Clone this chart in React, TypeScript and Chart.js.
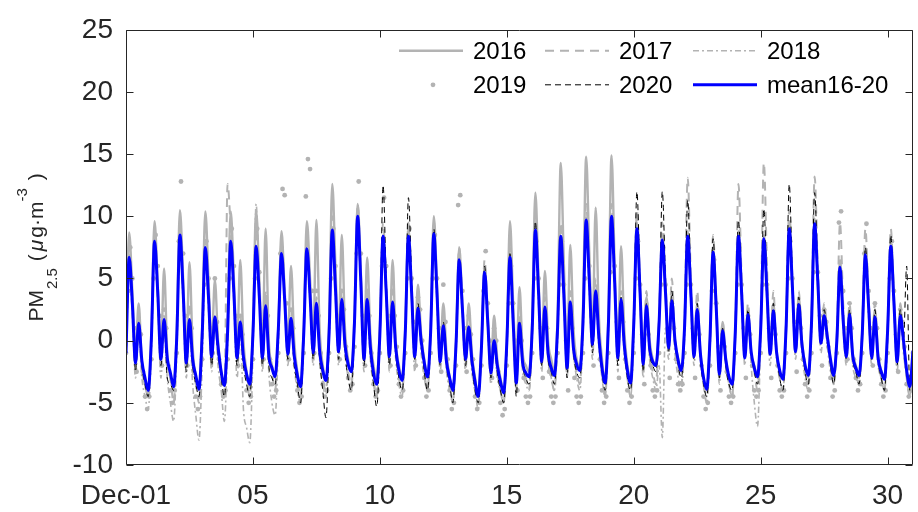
import React, { useEffect, useRef } from "react";
import { Chart, registerables } from "chart.js";

Chart.register(...registerables);

// ---------------- data (day 0 = Dec-01 00:00) ----------------
const SAMPLE_STEP_DAYS = 0.125; // 3-hourly samples for the line series
const SAMPLE_STEP_2019 = 1 / 12; // 2-hourly samples for the 2019 dots
const xTickValues = [0, 5, 10, 15, 20, 25, 30];
const xTickLabels = ["Dec-01", "05", "10", "15", "20", "25", "30"];
const yTickValues = [-10, -5, 0, 5, 10, 15, 20, 25];
const seriesNames = ["2016", "2017", "2018", "2019", "2020", "mean16-20"];

const pm2016 = [
  -0.5, 8.7, 4, -1, 3, -2, -3.5, -4.5,
  0.5, 9.6, 4.5, -1, 5.8, -1, -3, -4,
  1, 10.5, 5, -1, 6.3, -0.5, -3, -4,
  1, 10.4, 5, -0.5, 4.9, 0, -2.5, -3.5,
  1.5, 10.4, 5, -0.5, 6.5, 0, -2.5, -3.8,
  1, 10.5, 5, -0.5, 9, 0, -2, -3,
  1, 8.8, 4, 0, 6, 0, -2.5, -3.5,
  1, 9.6, 5, 0, 9.7, 1, -2, -3,
  1.5, 12.6, 6, 0, 8.5, 1, -1.5, -2.5,
  2, 11, 5.5, -0.5, 6.7, 0.5, -2, -3,
  1, 8.5, 4, -0.5, 6.5, 0, -2, -3,
  1, 9, 4, -0.5, 4.5, 0.5, -1.5, -3,
  1, 10, 4.5, -1, 3, -1, -3, -4,
  0, 7.5, 3, -1, 3, -1, -3, -4.5,
  -0.5, 6, 2, -2, 2, -1.5, -3, -4,
  0, 9.6, 3, -2, 4.3, -1, -2, -2.5,
  1.5, 11.9, 5, -1, 5.6, 0, -1.5, -2.5,
  2, 14.3, 6, -1, 7.7, 1, -1.5, -2,
  2.5, 14.8, 7, 0.5, 10.7, 2, -1.5, -3,
  2, 14.9, 6, -0.5, 7.6, 1, -2, -3,
  1.5, 9.5, 4, -1.5, 3.5, 0, -1.5, -2,
  1.5, 8.5, 4, -0.5, 3.5, 0, -1.5, -2.5,
  1, 8.8, 4, -1, 3, -1, -3, -4,
  0, 7.5, 3, -2.5, 1.5, -1.5, -3, -3.5,
  0.5, 8.8, 4, -1, 2.5, -1, -2, -3,
  1, 8.5, 4, -1, 3, -1, -2.5, -3,
  1, 9.5, 4.5, -1, 3.5, 0, -2, -3,
  1.5, 9.8, 5, 0, 2.5, 0.5, -1.5, -3,
  0, 6.5, 2, -1, 2.5, -1, -2, -3,
  0.5, 7.5, 3, -1, 2.5, -1, -2.5, -3,
  1, 8, 3.5, -1.5, 2.5, 0, -2.5, -3.5,
  -1,
];

const pm2017 = [
  -1, 7, 3, -2, 1, -2, -3.5, -4.5,
  0, 8.5, 4, -2, 2, -2, -3, -5,
  0, 9, 4, -2, 3, -2, -3.5, -5,
  1, 8, 4, -2, 2, -1, -3, -4.5,
  12.6, 9, 4, -1.5, 2, -1.5, -3, -4.5,
  1, 9, 4.5, -1.5, 3.5, -1, -2.5, -4,
  1, 8, 4, -1.5, 2.5, -1, -3, -4.5,
  1, 8.5, 4, -1, 3.5, -0.5, -3, -4,
  1, 10, 5, -1, 4, 0, -2.5, -3.5,
  1.5, 11, 5, -1.5, 4, -0.5, -3, -4.5,
  1, 9.5, 4.5, -1.5, 4, -0.5, -3, -4,
  1, 9.5, 4.5, -1.5, 3.5, 0, -2.5, -4,
  1, 9.5, 4, -2, 2, -2, -3.5, -5,
  0, 7.5, 3, -2, 2, -2, -4, -5,
  -0.5, 6.5, 2, -3, 1, -2.5, -4, -5,
  0, 7.5, 2, -3.5, 2, -2, -3, -4,
  1, 9.5, 4.5, -2, 3.5, -1.5, -3, -4,
  1, 9.5, 4, -2.5, 4, -1, -2.5, -3.5,
  1.5, 11, 5.5, -0.5, 5, 0, -2.5, -4.5,
  1.5, 11, 5, -1.5, 4, -0.5, -3, -4.5,
  1.5, 10.5, 4.5, -2, 4, -1, -2.5, -3.5,
  2, 9.5, 5, -0.5, 5, 0, -2, -3.5,
  1.5, 13.1, 5, -1, 4, -1, -3.5, -5,
  0, 8.5, 3, -3, 1.5, -2, -3.5, -4.5,
  1, 12.6, 5, -1, 3, -1, -2.5, -4,
  1.5, 14.3, 6, -1, 4, -1, -3, -4,
  1.5, 10.5, 5, -1, 4, 0, -2.5, -3.5,
  1.5, 13.2, 6, 0, 3, 0.5, -2, -3.5,
  0.5, 9.5, 3, -1, 3, -1, -2.5, -3.5,
  1, 9, 3.5, -1, 3, -1.5, -3, -4,
  1, 9, 3.5, -2, 3, 0, -3, -4.5,
  -1,
];

const pm2018 = [
  -1.5, 6, 2, -3, 0.5, -3, -4.5, -5.5,
  -1, 7, 3, -3, 1, -3, -5, -6.5,
  -1, 8, 3, -3, 1, -3.5, -6, -8,
  -2, 6.5, 2.5, -2.5, 2, -2, -4, -6.5,
  -0.5, 8, 3, -3, 1, -5.5, -7, -8.2,
  -1, 11, 4, -2.5, 4, -2.5, -5, -6,
  -0.5, 7, 3, -2, 2, -2, -4, -5,
  0, 7, 3, -2, 3, -1.5, -3.5, -4.5,
  0, 8, 3.5, -2, 3, -1, -3, -4,
  1, 9, 4, -2.5, 3, -1.5, -3.5, -4.5,
  0, 8, 3.5, -2.5, 3, -1.5, -3.5, -4.5,
  0, 8, 3.5, -2.5, 2.5, -1, -3, -4,
  0, 8, 3, -2.5, 1, -2.5, -4, -5,
  -1, 6, 2, -2.5, 1, -2.5, -4, -5.5,
  -1, 5, 1, -3.5, -0.5, -3, -4, -5,
  -1, 6, 1, -4, 1, -2.5, -3.5, -4,
  0, 8, 3, -2.5, 2.5, -1.5, -3, -4,
  0, 7.5, 3, -3, 3, -1, -3, -4,
  0.5, 9, 4, -1.5, 3.5, -0.5, -3, -4.5,
  0.5, 9, 4, -2.5, 3, -1, -3, -4.5,
  0, 8.5, 3, -3, 2.5, -1.5, -3, -4,
  -2, -7.8, 1, -1.5, 2.5, -1, -3, -4,
  0, 8, 3, -2, 2, -1.5, -3.5, -4.5,
  -1, 6.5, 2, -3.5, 0.5, -2, -3.5, -4.5,
  0, 8, 3, -2, 2, -2, -5, -6.9,
  0, 8, 3, -2, 2, -1.5, -3, -4,
  0.5, 8.5, 3.5, -1.5, 2.5, -1, -3, -4,
  0.5, 9, 4, -1, 1.5, -0.5, -2.5, -3.5,
  -0.5, 5.5, 1, -2, 1.5, -2, -3, -3.5,
  0, 6.5, 2, -2, 1.5, -2, -3, -4,
  0, 7, 2.5, -2.5, 1.5, -1, -3, -4.5,
  -1.5,
];

// 2-hourly (12 per day)
const pm2019 = [
  -1, 4, 7.5, 5, 1, -2.5, 1.5, 0.5, -2.5, -4.5, -5.5, -4.5,
  -1.5, 5, 8.5, 6, 2, -2, 2.5, 1, -2, -4, -5, -4,
  -1, 8, 12.8, 7, 2, -2, 2.5, 1, -2.5, -4.5, -5.5, -4.5,
  -1.5, 4.5, 8, 5, 1, -1, 5, 1.5, -1.5, -3.5, -4.5, -4,
  -1.5, 5, 9, 6, 2, -2, 2, 0.5, -2, -4, -5, -4.5,
  -1.5, 5, 9, 5.5, 1.5, -1.5, 3.5, 2, -1.5, -3.5, -4.5, -4,
  -1, 7, 12.2, 11.7, 3, -1.5, 2.5, 1, -2, -4, -5, -4.5,
  -1, 11.6, 14.6, 13.8, 4, -1, 4, 2, -1, -3.5, -4.5, -4,
  -1, 5, 9, 6, 2, -1.5, 4, 2.5, -0.5, -3, -4, -3.5,
  -0.5, 7, 12.8, 7, 2, -2, 4, 2, -1, -3.5, -4.5, -4,
  -1, 6, 11.5, 6, 2, -2, 4, 2, -0.5, -3.5, -4.5, -4,
  -1, 5, 9, 5, 1.5, -2, 3.5, 2.5, 0, -3, -4.5, -4,
  -1, 5, 8.5, 5, 1, -2.5, 4.5, 1.5, -1.5, -4, -5.5, -5,
  -2, 10.9, 11.7, 4, 1, -2.5, 2, 0.5, -1.5, -4.5, -5.5, -5,
  -2, 4, 7.2, 3, 0, -3, 1, 0, -2.5, -5, -6, -5.5,
  -2, 3, 6, 3, 0, -4, 1.5, 0, -3, -4.5, -5, -4.5,
  -1, 5, 8, 5, 1, -3, 2.5, 1, -2.5, -4.5, -5, -4.5,
  -1, 4.5, 8, 4.5, 0, -4, 3, 1, -3, -4.5, -5, -4.5,
  -1, 5, 8.5, 6, 2, -2, 4, 2, -1.5, -4, -5, -4.5,
  -1, 5.5, 9, 6, 1.5, -3, 3, 1.5, -1.5, -4, -5, -4.5,
  -1, 5, 8, 4.5, 0.5, -3.5, 2, 0.5, -2, -4, -4.5, -4,
  -1, 4.5, 7.5, 4.5, 1, -3, 3, 1, -1.5, -3.5, -4, -3.5,
  -1, 4.5, 7.5, 4.5, 1, -3, 2, 0.5, -2, -4.5, -5.5, -5,
  -2, 4, 6.5, 3, -0.5, -4, 0.5, -0.5, -2.5, -4.5, -5, -4.5,
  -1, 4.5, 7.5, 4.5, 1, -3, 2, 0.5, -2, -4, -4.5, -4,
  -1, 4.5, 7.5, 4.5, 1, -3, 2, 0.5, -2, -4, -4.5, -4,
  -1, 5, 8, 5, 1.5, -2.5, 2.5, 1, -1.5, -3.5, -4.5, -4,
  -1, 5.5, 8.5, 5.5, 2, -2, 2.5, 1.5, -0.5, -3, -4.5, -4,
  -1, 9.5, 10.4, 4, 1, -1.5, 3, 1, -1.5, -3, -4, -3.5,
  -1, 7, 9.4, 4, 1, -2, 3, 1, -1.5, -3.5, -4.5, -4,
  -1, 5, 8, 4, 0.5, -2.5, 2.5, 1.5, -0.5, -3.5, -4.5, -4,
  -1,
];

const pm2020 = [
  -2, 6.5, 3, -2.5, 1.5, -2, -3.5, -4.5,
  0, 7.5, 3.5, -2, 1.5, -3, -3.5, -4,
  0, 8, 3.5, -2.5, 1.5, -2, -3.5, -4.5,
  0, 7.5, 3, -2, 1.5, -1, -3, -4.5,
  0, 7.5, 3.5, -2, 1, -2, -3.5, -4.5,
  0, 7, 3, -2, 2.5, -2, -3, -3.5,
  0.5, 6.5, 3, -1.5, 1, -2, -3.5, -5,
  0, 7, 3.5, -1.5, 2.5, -1.5, -4, -6.2,
  -0.5, 8.5, 4, -1.5, 3, -1, -3, -4,
  1, 9.6, 4.5, -2, 3, -1, -3.5, -5.3,
  0, 12.5, 5, -2, 3, -1, -3, -4,
  0, 11.5, 5, -1.5, 3, 0, -2.5, -4,
  0.5, 9, 4, -2, 1.5, -2, -3.5, -5,
  -0.5, 6.5, 2.5, -2, 1, -2, -4, -5,
  -1, 6, 1.5, -3, 0, -2.5, -4, -5,
  -1, 7, 1.5, -4.5, 1.5, -2, -3, -3.5,
  0.5, 9.6, 4, -2, 2.5, -1.5, -2.5, -3.5,
  0.5, 8, 3.5, -3, 3, -1, -2.5, -3,
  1, 9.5, 5, -1, 4, 0, -2.5, -4,
  1, 9.5, 4.5, -2, 3.5, -0.5, -3, -4,
  1.5, 12, 4.5, -2.5, 3, -1, -2, -2.5,
  1.5, 12, 5, -1, 4, 0, -2, -3,
  1, 11.3, 4.5, -1.5, 3, -1.5, -3.5, -4.5,
  0, 8.2, 3, -3, 1, -2, -3.5, -4,
  1, 9.7, 4, -1.5, 2.5, -1, -2.5, -3.5,
  1, 10.6, 4.5, -1, 3, -1, -3, -4,
  1, 12.6, 5, -1, 3.5, 0, -2.5, -3.5,
  1.5, 11.9, 5.5, 0, 2.5, 0.5, -2, -3.5,
  0, 5.5, 1.5, -1.5, 2.5, -1.5, -2.5, -3.5,
  0.5, 7.5, 3, -1.5, 2.5, -1.5, -3, -4,
  1, 8.5, 3, -2, 2.5, 0, 6, -4,
  -1,
];

const pmMean = [
  -1.0, 6.7, 3.0, -1.8, 1.4, -1.6, -3.0, -4.0,
  0.2, 8.0, 3.9, -1.5, 1.7, -1.4, -2.6, -3.7,
  0.3, 8.5, 4.0, -1.8, 1.7, -1.5, -2.8, -3.9,
  0.4, 7.5, 3.5, -1.3, 1.9, -0.5, -2.5, -3.6,
  0.6, 8.0, 3.8, -1.4, 1.5, -1.3, -2.7, -3.5,
  0.5, 7.6, 3.6, -1.4, 2.8, -1.2, -2.2, -2.9,
  0.9, 7.0, 3.3, -1.1, 1.8, -1.2, -2.8, -3.7,
  0.5, 7.4, 3.6, -1.0, 3.0, -0.8, -2.4, -3.2,
  0.6, 8.9, 4.2, -0.9, 3.3, -0.3, -1.9, -2.5,
  1.5, 10.0, 4.7, -1.5, 3.3, -0.5, -2.6, -3.5,
  0.5, 8.4, 3.9, -1.3, 3.1, -0.6, -2.4, -3.2,
  0.6, 8.4, 3.9, -1.3, 2.6, 0.0, -1.8, -2.9,
  0.7, 8.6, 3.8, -1.7, 1.2, -1.7, -3.0, -4.0,
  -0.3, 6.5, 2.6, -1.5, 1.1, -1.6, -3.3, -4.5,
  -0.6, 5.5, 1.5, -2.6, 0.0, -2.0, -3.3, -4.2,
  -0.2, 6.7, 1.5, -3.4, 1.4, -1.8, -2.6, -2.9,
  0.9, 8.9, 3.9, -1.7, 2.7, -1.0, -2.2, -2.8,
  1.0, 8.4, 3.5, -2.2, 3.1, -0.6, -1.9, -2.4,
  1.4, 9.7, 4.8, -0.3, 4.0, 0.3, -2.2, -3.4,
  1.2, 10.0, 4.6, -1.4, 3.3, -0.3, -2.4, -3.4,
  1.3, 9.0, 3.8, -1.9, 2.8, -0.6, -1.7, -2.0,
  1.5, 8.1, 3.9, -0.6, 3.2, 0.0, -1.6, -2.4,
  1.0, 8.4, 3.8, -1.3, 2.5, -1.0, -3.0, -3.9,
  0.0, 7.1, 2.6, -2.7, 0.8, -1.5, -2.9, -3.5,
  0.7, 8.4, 3.8, -1.4, 2.1, -0.9, -2.2, -2.9,
  0.9, 8.2, 3.8, -1.1, 2.4, -0.9, -2.4, -3.1,
  1.0, 9.0, 4.3, -0.9, 2.9, -0.3, -2.0, -2.8,
  1.3, 9.4, 4.8, -0.2, 2.0, 0.3, -1.5, -2.8,
  0.0, 5.9, 1.6, -1.3, 2.1, -1.2, -2.2, -2.8,
  0.5, 6.9, 2.8, -1.4, 1.9, -1.4, -2.5, -3.1,
  0.8, 7.6, 3.0, -1.7, 2.0, 0.0, -2.4, -3.7,
  -0.8,
];

// ---------------- styling ----------------
const FONT = '"Liberation Sans", Arial, Helvetica, sans-serif';
const AXIS_COLOR = "#262626";
const GRAY = "#b3b3b3";
const TICK_LEN = 7;

const toPoints = (values: number[], step: number) =>
  values.map((v, i) => ({ x: i * step, y: v }));

const yTitleParts = [
  { text: "PM", size: 21, shift: 0, italic: false, gap: 0 },
  { text: "2.5", size: 15, shift: 14, italic: false, gap: 1 },
  { text: "(", size: 21, shift: 0, italic: false, gap: 7 },
  { text: "\u03bc", size: 21, shift: 0, italic: true, gap: 3 },
  { text: "g\u00b7m", size: 21, shift: 0, italic: false, gap: 2 },
  { text: "-3", size: 15, shift: -16, italic: false, gap: 0 },
  { text: ")", size: 21, shift: 0, italic: false, gap: 8 },
];

const framePlugin = {
  id: "matlabFrame",
  afterDraw(chart: any) {
    const { ctx, chartArea: a, scales } = chart;
    ctx.save();
    ctx.strokeStyle = AXIS_COLOR;
    ctx.lineWidth = 1;
    const L = Math.round(a.left) + 0.5;
    const R = Math.round(a.right) - 0.5;
    const T = Math.round(a.top) + 0.5;
    const B = Math.round(a.bottom) - 0.5;
    ctx.beginPath();
    ctx.rect(L, T, R - L, B - T);
    for (const v of xTickValues) {
      const px = Math.round(scales.x.getPixelForValue(v)) + 0.5;
      ctx.moveTo(px, B);
      ctx.lineTo(px, B - TICK_LEN);
      ctx.moveTo(px, T);
      ctx.lineTo(px, T + TICK_LEN);
    }
    for (const v of yTickValues) {
      const py = Math.round(scales.y.getPixelForValue(v)) + 0.5;
      ctx.moveTo(L, py);
      ctx.lineTo(L + TICK_LEN, py);
      ctx.moveTo(R, py);
      ctx.lineTo(R - TICK_LEN, py);
    }
    ctx.stroke();
    ctx.restore();
  },
};

const legendPlugin = {
  id: "matlabLegend",
  afterDraw(chart: any) {
    const { ctx, chartArea: a } = chart;
    const colStarts = [a.right - 514, a.right - 368, a.right - 220];
    const rowYs = [a.top + 21, a.top + 55];
    const lineLen = 64;
    ctx.save();
    chart.data.datasets.forEach((ds: any, i: number) => {
      const x0 = colStarts[i % 3];
      const y = rowYs[Math.floor(i / 3)];
      if (ds.showLine === false) {
        ctx.fillStyle = ds.pointBackgroundColor;
        ctx.beginPath();
        ctx.arc(x0 + lineLen / 2 + 2, y, ds.pointRadius, 0, Math.PI * 2);
        ctx.fill();
      } else {
        ctx.strokeStyle = ds.borderColor;
        ctx.lineWidth = ds.borderWidth;
        ctx.setLineDash(ds.borderDash || []);
        ctx.beginPath();
        ctx.moveTo(x0, y);
        ctx.lineTo(x0 + lineLen, y);
        ctx.stroke();
        ctx.setLineDash([]);
      }
      ctx.fillStyle = "#000000";
      ctx.font = `24px ${FONT}`;
      ctx.textAlign = "left";
      ctx.textBaseline = "alphabetic";
      ctx.fillText(ds.label, x0 + lineLen + 10, y + 8.6);
    });
    ctx.restore();
  },
};

const yTitlePlugin = {
  id: "yTitle",
  afterDraw(chart: any) {
    const { ctx, chartArea: a } = chart;
    ctx.save();
    let total = 0;
    for (const p of yTitleParts) {
      ctx.font = `${p.italic ? "italic " : ""}${p.size}px ${FONT}`;
      total += p.gap + ctx.measureText(p.text).width;
    }
    const cy = (a.top + a.bottom) / 2;
    ctx.translate(43, cy + total / 2);
    ctx.rotate(-Math.PI / 2);
    ctx.fillStyle = AXIS_COLOR;
    ctx.textBaseline = "alphabetic";
    ctx.textAlign = "left";
    let x = 0;
    for (const p of yTitleParts) {
      ctx.font = `${p.italic ? "italic " : ""}${p.size}px ${FONT}`;
      x += p.gap;
      ctx.fillText(p.text, x, p.shift);
      x += ctx.measureText(p.text).width;
    }
    ctx.restore();
  },
};

export default function App() {
  const canvasRef = useRef<HTMLCanvasElement | null>(null);

  useEffect(() => {
    document.body.style.margin = "0";
    const canvas = canvasRef.current;
    if (!canvas) return;

    const lineBase = {
      pointRadius: 0,
      pointHoverRadius: 0,
      fill: false,
      cubicInterpolationMode: "monotone" as const,
    };

    const chart = new Chart(canvas, {
      type: "line",
      data: {
        datasets: [
          { ...lineBase, label: seriesNames[0], data: toPoints(pm2016, SAMPLE_STEP_DAYS), borderColor: GRAY, borderWidth: 2.4, order: 5 },
          { ...lineBase, label: seriesNames[1], data: toPoints(pm2017, SAMPLE_STEP_DAYS), borderColor: GRAY, borderWidth: 2, borderDash: [9, 6], order: 4 },
          { ...lineBase, label: seriesNames[2], data: toPoints(pm2018, SAMPLE_STEP_DAYS), borderColor: GRAY, borderWidth: 1.6, borderDash: [6, 3, 2, 3], order: 3 },
          {
            label: seriesNames[3],
            data: toPoints(pm2019, SAMPLE_STEP_2019),
            showLine: false,
            pointRadius: 2.4,
            pointHoverRadius: 2.4,
            pointBorderWidth: 0,
            pointBackgroundColor: GRAY,
            borderColor: GRAY,
            order: 2,
          },
          { ...lineBase, label: seriesNames[4], data: toPoints(pm2020, SAMPLE_STEP_DAYS), borderColor: "#000000", borderWidth: 1, borderDash: [6, 4], order: 1 },
          { ...lineBase, label: seriesNames[5], data: toPoints(pmMean, SAMPLE_STEP_DAYS), borderColor: "#0000ff", borderWidth: 3, order: 0 },
        ] as any,
      },
      options: {
        responsive: false,
        animation: false,
        devicePixelRatio: 1,
        events: [],
        layout: { padding: { left: 0, top: 22, right: 5, bottom: 0 } },
        plugins: {
          legend: { display: false },
          tooltip: { enabled: false },
        },
        scales: {
          x: {
            type: "linear",
            min: 0,
            max: 31,
            grid: { display: false, drawTicks: false },
            border: { display: false },
            afterBuildTicks: (s: any) => {
              s.ticks = xTickValues.map((v) => ({ value: v }));
            },
            afterFit: (s: any) => {
              s.height = 47;
            },
            ticks: {
              autoSkip: false,
              maxRotation: 0,
              padding: 14,
              color: AXIS_COLOR,
              font: { family: FONT, size: 28 },
              callback: (v: any) => {
                const i = xTickValues.indexOf(Number(v));
                return i >= 0 ? xTickLabels[i] : "";
              },
            },
          },
          y: {
            type: "linear",
            min: -10,
            max: 25,
            grid: { display: false, drawTicks: false },
            border: { display: false },
            afterBuildTicks: (s: any) => {
              s.ticks = yTickValues.map((v) => ({ value: v }));
            },
            afterFit: (s: any) => {
              s.width = 126;
            },
            ticks: {
              autoSkip: false,
              padding: 13,
              color: AXIS_COLOR,
              font: { family: FONT, size: 28 },
              callback: (v: any) => String(v),
            },
          },
        },
      } as any,
      plugins: [framePlugin, legendPlugin, yTitlePlugin],
    });

    return () => chart.destroy();
  }, []);

  return (
    <canvas
      ref={canvasRef}
      width={918}
      height={512}
      style={{ display: "block", width: "918px", height: "512px" }}
    />
  );
}
